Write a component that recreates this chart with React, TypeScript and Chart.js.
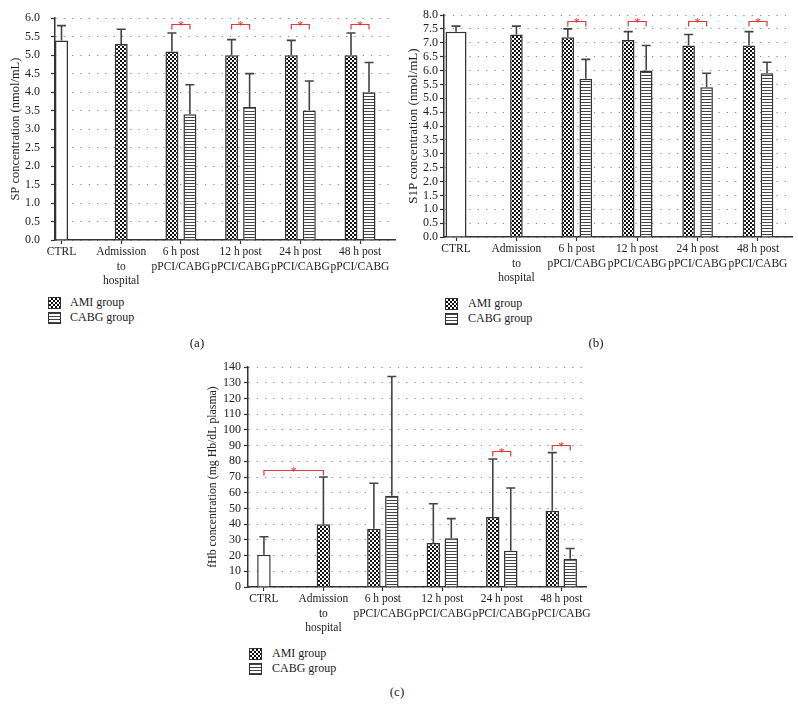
import React, { useEffect, useRef } from "react";
import { Chart, registerables } from "chart.js";

Chart.register(...registerables);

// ---------- shared categories ----------
const categoryLabels: string[][] = [
  ["CTRL"],
  ["Admission", "to", "hospital"],
  ["6 h post", "pPCI/CABG"],
  ["12 h post", "pPCI/CABG"],
  ["24 h post", "pPCI/CABG"],
  ["48 h post", "pPCI/CABG"],
];
const seriesNames = ["CTRL", "AMI group", "CABG group"];

// ---------- (a) SP ----------
const spCtrl = [5.4, null, null, null, null, null];
const spCtrlSd = [0.4, null, null, null, null, null];
const spAmi = [null, 5.3, 5.1, 5.0, 5.0, 5.0];
const spAmiSd = [null, 0.4, 0.5, 0.42, 0.4, 0.6];
const spCabg = [null, null, 3.4, 3.6, 3.5, 4.0];
const spCabgSd = [null, null, 0.8, 0.9, 0.8, 0.8];
const spAxis = [0, 6, 0.5]; // min, max, step
// significance: [category, series] -> [category, series], bracket level
const spSig = [
  { from: [2, 1], to: [2, 2], y: 5.83 },
  { from: [3, 1], to: [3, 2], y: 5.83 },
  { from: [4, 1], to: [4, 2], y: 5.83 },
  { from: [5, 1], to: [5, 2], y: 5.83 },
];

// ---------- (b) S1P ----------
const s1pCtrl = [7.4, null, null, null, null, null];
const s1pCtrlSd = [0.2, null, null, null, null, null];
const s1pAmi = [null, 7.3, 7.2, 7.1, 6.9, 6.9];
const s1pAmiSd = [null, 0.3, 0.3, 0.3, 0.4, 0.5];
const s1pCabg = [null, null, 5.7, 6.0, 5.4, 5.9];
const s1pCabgSd = [null, null, 0.7, 0.9, 0.5, 0.4];
const s1pAxis = [0, 8, 0.5];
const s1pSig = [
  { from: [2, 1], to: [2, 2], y: 7.78 },
  { from: [3, 1], to: [3, 2], y: 7.78 },
  { from: [4, 1], to: [4, 2], y: 7.78 },
  { from: [5, 1], to: [5, 2], y: 7.78 },
];

// ---------- (c) fHb ----------
const fhbCtrl = [20.5, null, null, null, null, null];
const fhbCtrlSd = [11.5, null, null, null, null, null];
const fhbAmi = [null, 40, 37, 28, 44.5, 48.5];
const fhbAmiSd = [null, 30, 29, 25, 37, 37];
const fhbCabg = [null, null, 58, 31, 23, 18];
const fhbCabgSd = [null, null, 76, 12.5, 40, 6.5];
const fhbAxis = [0, 140, 10];
const fhbSig = [
  { from: [0, 0], to: [1, 1], y: 74.5 },
  { from: [4, 1], to: [4, 2], y: 86.5 },
  { from: [5, 1], to: [5, 2], y: 90.5 },
];

const FONT = "'Liberation Serif', 'Times New Roman', serif";
const RED = "#e0393e";
const INK = "#333";

type Num = number | null;
type Sig = { from: number[]; to: number[]; y: number };

interface Spec {
  values: Num[][];
  errors: Num[][];
  axis: number[];
  decimals: number;
  sig: Sig[];
  yTitle: string;
  width: number;
  height: number;
  yAxisWidth: number;
  xAxisHeight: number;
  padTop: number;
  padRight: number;
  xMin: number;
  xMax: number;
  yTickPad: number;
  titlePad: number;
  titleSize: number;
  catPct: number;
  barPct: number;
  barMax: number;
  ctrlBarMax: number;
}

function makePatterns() {
  const c = document.createElement("canvas");
  c.width = 4;
  c.height = 4;
  const g = c.getContext("2d")!;
  g.fillStyle = "#fff";
  g.fillRect(0, 0, 4, 4);
  g.fillStyle = "#111";
  g.fillRect(0, 0, 2, 2);
  g.fillRect(2, 2, 2, 2);
  const checker = g.createPattern(c, "repeat");
  const s = document.createElement("canvas");
  s.width = 4;
  s.height = 3;
  const h = s.getContext("2d")!;
  h.fillStyle = "#fff";
  h.fillRect(0, 0, 4, 3);
  h.fillStyle = "#444";
  h.fillRect(0, 0, 4, 1);
  const stripes = h.createPattern(s, "repeat");
  return { checker, stripes };
}

function errorBarPlugin(errors: Num[][]) {
  return {
    id: "errorBars",
    afterDatasetsDraw(chart: any) {
      const { ctx } = chart;
      const yScale = chart.scales.y;
      chart.data.datasets.forEach((ds: any, di: number) => {
        const meta = chart.getDatasetMeta(di);
        meta.data.forEach((el: any, i: number) => {
          const v = ds.data[i] ? ds.data[i].y : null;
          const e = errors[di][i];
          if (v == null || e == null) return;
          const top = yScale.getPixelForValue(v + e);
          ctx.save();
          ctx.strokeStyle = "#444";
          ctx.lineWidth = 1.6;
          ctx.beginPath();
          ctx.moveTo(el.x, el.y);
          ctx.lineTo(el.x, top);
          ctx.moveTo(el.x - 4.5, top);
          ctx.lineTo(el.x + 4.5, top);
          ctx.stroke();
          ctx.restore();
        });
      });
    },
  };
}

function bracketPlugin(items: Sig[]) {
  return {
    id: "sigBrackets",
    afterDatasetsDraw(chart: any) {
      const { ctx } = chart;
      const yScale = chart.scales.y;
      items.forEach((b) => {
        const e1 = chart.getDatasetMeta(b.from[1]).data[b.from[0]];
        const e2 = chart.getDatasetMeta(b.to[1]).data[b.to[0]];
        if (!e1 || !e2) return;
        const py = Math.round(yScale.getPixelForValue(b.y)) + 0.5;
        ctx.save();
        ctx.strokeStyle = RED;
        ctx.lineWidth = 1.2;
        ctx.beginPath();
        ctx.moveTo(e1.x, py + 5);
        ctx.lineTo(e1.x, py);
        ctx.lineTo(e2.x, py);
        ctx.lineTo(e2.x, py + 5);
        ctx.stroke();
        ctx.fillStyle = RED;
        ctx.font = `12px ${FONT}`;
        ctx.textAlign = "center";
        ctx.textBaseline = "alphabetic";
        ctx.fillText("*", (e1.x + e2.x) / 2, py + 4);
        ctx.restore();
      });
    },
  };
}

function toPoints(vals: Num[]) {
  return vals.map((v, i) => ({ x: i, y: v }));
}

function BarChart({ spec, left, top }: { spec: Spec; left: number; top: number }) {
  const ref = useRef<HTMLCanvasElement | null>(null);
  useEffect(() => {
    if (!ref.current) return;
    const { checker, stripes } = makePatterns();
    const fills = ["#fff", checker, stripes];
    const chart = new Chart(ref.current, {
      type: "bar",
      data: {
        datasets: spec.values.map((vals, di) => ({
          label: seriesNames[di],
          data: toPoints(vals) as any,
          backgroundColor: fills[di] as any,
          borderColor: INK,
          borderWidth: 1.5,
          categoryPercentage: spec.catPct,
          barPercentage: spec.barPct,
          maxBarThickness: di === 0 ? spec.ctrlBarMax : spec.barMax,
        })),
      },
      options: {
        animation: false,
        responsive: false,
        maintainAspectRatio: false,
        skipNull: true,
        layout: { padding: { top: spec.padTop, right: spec.padRight, left: 0, bottom: 0 } },
        plugins: { legend: { display: false }, tooltip: { enabled: false } },
        font: { family: FONT },
        scales: {
          x: {
            type: "linear",
            offset: false,
            min: spec.xMin,
            max: spec.xMax,
            afterBuildTicks: (scale: any) => {
              scale.ticks = categoryLabels.map((_, i) => ({ value: i }));
            },
            afterFit: (scale: any) => {
              scale.height = spec.xAxisHeight;
            },
            grid: { offset: false, drawOnChartArea: false, drawTicks: true, tickLength: 4, tickColor: INK, tickWidth: 1.2 },
            border: { display: true, color: INK, width: 1.5 },
            ticks: {
              autoSkip: false,
              maxRotation: 0,
              minRotation: 0,
              padding: 1,
              color: "#222",
              font: { family: FONT, size: 11.5, lineHeight: 1.25 },
              callback: (v: any) => categoryLabels[Math.round(Number(v))] || "",
            },
          },
          y: {
            type: "linear",
            min: spec.axis[0],
            max: spec.axis[1],
            afterFit: (scale: any) => {
              scale.width = spec.yAxisWidth;
            },
            grid: { color: "#8a8a8a", lineWidth: 1, drawTicks: true, tickLength: 4, tickColor: INK, tickWidth: 1.2 },
            border: { display: true, color: INK, width: 1.5, dash: [1.3, 7] },
            ticks: {
              stepSize: spec.axis[2],
              autoSkip: false,
              padding: spec.yTickPad,
              color: "#222",
              font: { family: FONT, size: 12 },
              callback: (v: any) => Number(v).toFixed(spec.decimals),
            },
            title: {
              display: true,
              text: spec.yTitle,
              color: "#222",
              padding: { top: spec.titlePad, bottom: 0 },
              font: { family: FONT, size: spec.titleSize, lineHeight: 1.2 },
            },
          },
        },
      } as any,
      plugins: [errorBarPlugin(spec.errors), bracketPlugin(spec.sig)],
    });
    return () => chart.destroy();
  }, [spec]);
  return (
    <canvas
      ref={ref}
      width={spec.width}
      height={spec.height}
      style={{ position: "absolute", left, top, width: spec.width, height: spec.height }}
    />
  );
}

const specA: Spec = {
  values: [spCtrl, spAmi, spCabg],
  errors: [spCtrlSd, spAmiSd, spCabgSd],
  axis: spAxis,
  decimals: 1,
  sig: spSig,
  yTitle: "SP concentration (nmol/mL)",
  width: 400,
  height: 292,
  yAxisWidth: 55,
  xAxisHeight: 52,
  padTop: 12,
  padRight: 5,
  xMin: -0.109,
  xMax: 5.586,
  yTickPad: 11,
  titlePad: 8,
  titleSize: 12.5,
  catPct: 0.603,
  barPct: 0.72,
  barMax: 13,
  ctrlBarMax: 13,
};

const specB: Spec = {
  values: [s1pCtrl, s1pAmi, s1pCabg],
  errors: [s1pCtrlSd, s1pAmiSd, s1pCabgSd],
  axis: s1pAxis,
  decimals: 1,
  sig: s1pSig,
  yTitle: "S1P concentration (nmol/mL)",
  width: 398,
  height: 289,
  yAxisWidth: 44,
  xAxisHeight: 52,
  padTop: 15,
  padRight: 6,
  xMin: -0.199,
  xMax: 5.563,
  yTickPad: 2,
  titlePad: 6,
  titleSize: 13,
  catPct: 0.596,
  barPct: 0.7,
  barMax: 12.6,
  ctrlBarMax: 21,
};

const specC: Spec = {
  values: [fhbCtrl, fhbAmi, fhbCabg],
  errors: [fhbCtrlSd, fhbAmiSd, fhbCabgSd],
  axis: fhbAxis,
  decimals: 0,
  sig: fhbSig,
  yTitle: "fHb concentration (mg Hb/dL plasma)",
  width: 392,
  height: 289,
  yAxisWidth: 48,
  xAxisHeight: 52,
  padTop: 17,
  padRight: 5,
  xMin: -0.268,
  xMax: 5.419,
  yTickPad: 3,
  titlePad: 6,
  titleSize: 11.8,
  catPct: 0.604,
  barPct: 0.75,
  barMax: 13.5,
  ctrlBarMax: 13.5,
};

const checkerCss = {
  backgroundImage: "repeating-conic-gradient(#111 0% 25%, #fff 0% 50%)",
  backgroundSize: "4px 4px",
};
const stripeCss = {
  backgroundImage: "repeating-linear-gradient(to bottom, #444 0px, #444 1px, #fff 1px, #fff 3px)",
};

function Legend({ left, top, textLeft }: { left: number; top: number; textLeft: number }) {
  const rows = [
    { name: seriesNames[1], css: checkerCss },
    { name: seriesNames[2], css: stripeCss },
  ];
  return (
    <>
      {rows.map((r, i) => (
        <React.Fragment key={r.name}>
          <div
            style={{
              position: "absolute",
              left,
              top: top + i * 15,
              width: 11,
              height: 10,
              border: `1.5px solid ${INK}`,
              ...r.css,
            }}
          />
          <div
            style={{
              position: "absolute",
              left: textLeft,
              top: top + i * 15 - 3,
              fontFamily: FONT,
              fontSize: 12,
              lineHeight: "16px",
              color: "#222",
              whiteSpace: "nowrap",
            }}
          >
            {r.name}
          </div>
        </React.Fragment>
      ))}
    </>
  );
}

function PanelLabel({ text, cx, cy }: { text: string; cx: number; cy: number }) {
  return (
    <div
      style={{
        position: "absolute",
        left: cx - 20,
        top: cy - 9,
        width: 40,
        textAlign: "center",
        fontFamily: FONT,
        fontSize: 13,
        lineHeight: "18px",
        color: "#222",
      }}
    >
      {text}
    </div>
  );
}

export default function App() {
  return (
    <div style={{ position: "absolute", left: 0, top: 0, width: 798, height: 719, background: "#fff", overflow: "hidden" }}>
      <BarChart spec={specA} left={0} top={0} />
      <BarChart spec={specB} left={400} top={0} />
      <BarChart spec={specC} left={200} top={350} />
      <Legend left={48} top={297} textLeft={70} />
      <Legend left={445} top={298} textLeft={468} />
      <Legend left={249} top={648} textLeft={272} />
      <PanelLabel text="(a)" cx={197} cy={343} />
      <PanelLabel text="(b)" cx={596} cy={343} />
      <PanelLabel text="(c)" cx={397} cy={692} />
    </div>
  );
}
